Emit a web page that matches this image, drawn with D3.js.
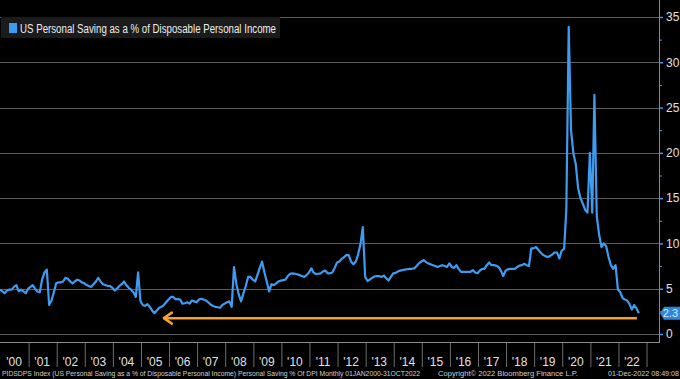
<!DOCTYPE html>
<html>
<head>
<meta charset="utf-8">
<script src="https://cdn.jsdelivr.net/npm/d3@7"></script>
<style>
  body { margin: 0; background: #000; }
  #chart { width: 680px; height: 379px; overflow: hidden; }
</style>
</head>
<body>
<div id="chart"></div>
<script>
// monthly values, Jan 2000 - Oct 2022
var savingRate = [
  4.9, 4.7, 4.5, 4.8, 4.9, 4.9, 5.2, 5.4, 4.7, 4.9, 4.7, 4.5,
  5.0, 5.2, 5.4, 5.0, 4.7, 4.6, 6.0, 6.8, 7.1, 3.2, 3.7, 4.6,
  5.6, 5.7, 5.7, 5.8, 6.2, 6.1, 5.8, 5.6, 5.8, 6.0, 5.9, 5.7,
  5.6, 5.4, 5.3, 5.2, 5.5, 5.8, 6.2, 5.8, 5.5, 5.4, 5.3, 5.3,
  5.1, 4.8, 5.0, 5.3, 5.5, 5.8, 5.4, 5.1, 4.9, 4.6, 4.1, 6.8,
  3.6, 3.2, 3.1, 3.3, 3.0, 2.6, 2.3, 2.6, 2.9, 3.0, 3.2, 3.5,
  3.8, 4.1, 4.1, 3.85, 3.85, 3.8, 3.35, 3.4, 3.5, 3.35, 3.7, 3.6,
  3.5, 3.8, 3.9, 3.8, 3.7, 3.5, 3.25, 3.1, 3.0, 2.95, 2.9, 3.2,
  3.35, 3.5, 3.6, 3.0, 7.4, 5.5, 4.4, 3.6, 4.5, 5.3, 6.3, 6.3,
  6.0, 5.8, 6.5, 7.3, 8.0, 6.8, 5.8, 4.7, 5.5, 5.4, 5.6, 5.8,
  5.9, 5.95, 6.0, 6.4, 6.65, 6.7, 6.65, 6.6, 6.5, 6.4, 6.3, 6.5,
  6.8, 7.25, 6.8, 6.6, 6.65, 6.7, 6.9, 7.0, 6.7, 6.7, 6.8, 7.3,
  7.9, 8.0, 8.3, 8.5, 8.7, 8.7, 8.0, 7.7, 8.0, 8.8, 9.9, 11.8,
  6.3, 5.85, 6.0, 6.2, 6.35, 6.4, 6.4, 6.3, 6.45, 6.15, 5.9, 6.3,
  6.7, 6.75, 6.9, 7.0, 7.05, 7.1, 7.15, 7.2, 7.2, 7.25, 7.5, 7.8,
  8.0, 8.15, 7.95, 7.8, 7.7, 7.6, 7.5, 7.4, 7.5, 7.6, 7.5, 7.4,
  7.8, 7.4, 7.3, 7.6, 7.2, 6.85, 6.85, 6.85, 6.85, 6.85, 7.05, 6.8,
  6.7, 7.0, 7.2, 7.2, 7.6, 7.9, 7.6, 7.6, 7.55, 7.4, 7.0, 6.4,
  7.0, 7.15, 7.2, 7.2, 7.2, 7.4, 7.55, 7.6, 7.75, 7.6, 7.5, 9.45,
  9.45, 9.6, 9.3, 9.0, 8.75, 8.6, 8.5, 8.6, 8.8, 9.0, 9.0, 8.35,
  9.2, 9.4, 13.7, 33.9, 22.5, 19.9, 18.8, 16.1, 15.0, 14.4, 13.7, 13.4,
  20.0, 13.4, 26.4, 13.0, 11.0, 9.6, 10.0, 9.7, 8.5, 7.6, 7.2, 7.6,
  4.9, 4.6, 4.0, 3.8, 3.7, 3.3, 2.7, 3.2, 2.8, 2.3
];
var yearLabels = ["'00","'01","'02","'03","'04","'05","'06","'07","'08","'09","'10","'11",
                  "'12","'13","'14","'15","'16","'17","'18","'19","'20","'21","'22"];
var yTicks = [0, 5, 10, 15, 20, 25, 30, 35];
var yMinorTicks = [2.5, 7.5, 12.5, 17.5, 22.5, 27.5, 32.5];
var arrowFrom = new Date(2005, 10, 1), arrowTo = new Date(2022, 9, 1), arrowLevel = 1.75;

var seriesName = "US Personal Saving as a % of Disposable Personal Income";
var footLeft = "PIDSDPS Index (US Personal Saving as a % of Disposable Personal Income) Personal Saving % Of DPI  Monthly 01JAN2000-31OCT2022";
var footMid = "Copyright\u00a9 2022 Bloomberg Finance L.P.";
var footRight = "01-Dec-2022 08:49:08";

var blue = "#3d9bf0", orange = "#f5a031", grid = "#5e5e5e";

var width = 680, height = 379;
var axisX = 659, plotBottom = 342;

var svg = d3.select("#chart")
  .append("svg")
  .attr("width", width)
  .attr("height", height)
  .style("font-family", "'Liberation Sans Narrow', 'Liberation Sans', Arial, sans-serif");

svg.append("rect").attr("width", width).attr("height", height).attr("fill", "#000");

var data = savingRate.map(function(v, i) { return { date: new Date(2000, i, 1), value: v }; });

var x = d3.scaleTime()
  .domain([new Date(2000, 0, 1), new Date(2023, 0, 1)])
  .range([0, 646]);

var y = d3.scaleLinear()
  .domain([0, 35])
  .range([334, 17]);

// gridlines
svg.append("g")
  .selectAll("line")
  .data(yTicks)
  .enter()
  .append("line")
  .attr("x1", 0)
  .attr("x2", axisX)
  .attr("y1", function(d) { return Math.round(y(d)) + 0.5; })
  .attr("y2", function(d) { return Math.round(y(d)) + 0.5; })
  .attr("stroke", grid)
  .attr("stroke-width", 1);

// bottom axis: year separators
var years = d3.timeYear.range(new Date(2001, 0, 1), new Date(2024, 0, 1));
var xAxis = svg.append("g")
  .attr("transform", "translate(0," + plotBottom + ")")
  .call(d3.axisBottom(x).tickValues(years).tickSize(25).tickFormat(""));
xAxis.select(".domain").remove();
xAxis.selectAll("line").attr("stroke", "#6e6e6e").attr("transform", "translate(0.5,0)");

svg.append("line")
  .attr("x1", 0).attr("x2", axisX)
  .attr("y1", plotBottom + 0.5).attr("y2", plotBottom + 0.5)
  .attr("stroke", "#8a8a8a");

svg.append("g")
  .selectAll("text")
  .data(yearLabels)
  .enter()
  .append("text")
  .attr("x", function(d, i) { return (x(new Date(2000 + i, 0, 1)) + x(new Date(2001 + i, 0, 1))) / 2; })
  .attr("y", 366)
  .attr("text-anchor", "middle")
  .attr("fill", "#e0e0e0")
  .style("font-size", "12px")
  .text(function(d) { return d; });

// right axis
var yAxis = svg.append("g")
  .attr("transform", "translate(" + axisX + ",0)")
  .call(d3.axisRight(y).tickValues(yTicks).tickSize(4).tickPadding(3));
yAxis.select(".domain").remove();
yAxis.selectAll("line").attr("stroke", blue).attr("stroke-width", 1.5);
yAxis.selectAll("text").attr("fill", "#e0e0e0").style("font-size", "12px").style("font-family", "'Liberation Sans Narrow', 'Liberation Sans', sans-serif");

var yMinor = svg.append("g")
  .attr("transform", "translate(" + axisX + ",0)")
  .call(d3.axisRight(y).tickValues(yMinorTicks).tickSize(3).tickFormat(""));
yMinor.select(".domain").remove();
yMinor.selectAll("line").attr("stroke", blue);

svg.append("line")
  .attr("x1", axisX + 0.5).attr("x2", axisX + 0.5)
  .attr("y1", 0).attr("y2", plotBottom + 1)
  .attr("stroke", blue).attr("stroke-width", 1);

// the series
var line = d3.line()
  .x(function(d) { return x(d.date); })
  .y(function(d) { return y(d.value); });

svg.append("path")
  .datum(data)
  .attr("fill", "none")
  .attr("stroke", blue)
  .attr("stroke-width", 2.2)
  .attr("stroke-linejoin", "round")
  .attr("d", line);

// orange arrow
var ay = y(arrowLevel), ax = x(arrowFrom);
svg.append("line")
  .attr("x1", ax).attr("x2", x(arrowTo) - 2)
  .attr("y1", ay).attr("y2", ay)
  .attr("stroke", orange).attr("stroke-width", 2.5);
svg.append("path")
  .attr("d", "M" + (ax + 8) + "," + (ay - 5.5) + " L" + ax + "," + ay + " L" + (ax + 8) + "," + (ay + 5.5))
  .attr("fill", "none")
  .attr("stroke", orange)
  .attr("stroke-width", 2.5)
  .attr("stroke-linecap", "round")
  .attr("stroke-linejoin", "round");

// last value tag
var last = data[data.length - 1];
var ly = y(last.value);
svg.append("path")
  .attr("d", "M" + (axisX + 1) + "," + ly + " L" + (axisX + 5) + "," + (ly - 6.5) + " L680," + (ly - 6.5) + " L680," + (ly + 6.5) + " L" + (axisX + 5) + "," + (ly + 6.5) + "Z")
  .attr("fill", "#2f86d8");
svg.append("text")
  .attr("x", 678)
  .attr("y", ly + 4)
  .attr("text-anchor", "end")
  .attr("fill", "#d8ecff")
  .style("font-size", "11px")
  .text(last.value);

// legend
var legend = svg.append("g");
legend.append("rect")
  .attr("x", 1).attr("y", 17).attr("width", 279).attr("height", 21)
  .attr("fill", "#1b1b1b");
legend.append("rect")
  .attr("x", 9).attr("y", 23).attr("width", 8).attr("height", 10)
  .attr("fill", blue);
legend.append("text")
  .attr("x", 20).attr("y", 32.5)
  .attr("fill", "#eeeeee")
  .style("font-size", "12px")
  .attr("textLength", 256)
  .attr("lengthAdjust", "spacingAndGlyphs")
  .text(seriesName);

// footer
svg.append("text")
  .attr("x", 2).attr("y", 376)
  .attr("fill", "#d0d0d0").style("font-size", "6.8px")
  .attr("textLength", 418).attr("lengthAdjust", "spacingAndGlyphs")
  .text(footLeft);
svg.append("text")
  .attr("x", 438).attr("y", 376)
  .attr("fill", "#d0d0d0").style("font-size", "6.8px")
  .attr("textLength", 140).attr("lengthAdjust", "spacingAndGlyphs")
  .text(footMid);
svg.append("text")
  .attr("x", 679).attr("y", 376)
  .attr("text-anchor", "end")
  .attr("fill", "#d0d0d0").style("font-size", "6.8px")
  .attr("textLength", 71).attr("lengthAdjust", "spacingAndGlyphs")
  .text(footRight);
</script>
</body>
</html>
